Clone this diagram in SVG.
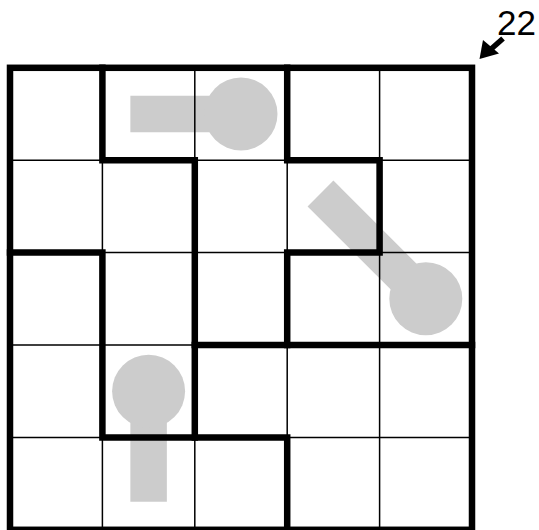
<svg xmlns="http://www.w3.org/2000/svg" width="539" height="530" viewBox="0 0 539 530">
  <style>
    .bg { fill: #ffffff; }
    .thin { stroke: #000; stroke-width: 1.5; fill: none; }
    .thick { stroke: #000; stroke-width: 6.5; fill: none; stroke-linecap: square; stroke-linejoin: miter; }
    .bar { stroke: #cccccc; stroke-width: 36.5; stroke-linecap: square; fill: none; }
    .bulb { fill: #cccccc; }
    .label { font-family: "Liberation Sans", Arial, sans-serif; font-size: 35px; fill: #000; }
  </style>
  <rect class="bg" x="0" y="0" width="539" height="530"/>

  <g id="pieces">
    <g id="piece-top">
      <line class="bar" x1="148.6" y1="114" x2="241" y2="114"/>
      <circle class="bulb" cx="241" cy="114" r="36.5"/>
    </g>
    <g id="piece-right">
      <line class="bar" x1="333.4" y1="206.4" x2="425.8" y2="298.8"/>
      <circle class="bulb" cx="425.8" cy="298.8" r="36.5"/>
    </g>
    <g id="piece-bottom">
      <line class="bar" x1="148.6" y1="483.6" x2="148.6" y2="391.2"/>
      <circle class="bulb" cx="148.6" cy="391.2" r="36.5"/>
    </g>
  </g>

  <g id="grid">
    <path class="thin" d="M102.4,67.8 V529.8 M194.8,67.8 V529.8 M287.2,67.8 V529.8 M379.6,67.8 V529.8 M10,160.2 H472 M10,252.6 H472 M10,345 H472 M10,437.4 H472"/>
  </g>

  <g id="walls">
    <rect class="thick" x="10" y="67.8" width="462" height="462"/>
    <path class="thick" d="M102.4,67.8 V160.2 H194.8 V437.4"/>
    <path class="thick" d="M287.2,67.8 V160.2 H379.6 V252.6 H287.2 V345"/>
    <path class="thick" d="M194.8,345 H472"/>
    <path class="thick" d="M10,252.6 H102.4 V437.4 H287.2 V529.8"/>
  </g>

  <g id="callout">
    <line x1="503" y1="38.5" x2="490" y2="50" stroke="#000" stroke-width="5.5"/>
    <polygon points="479.5,59 483,40 499,53.5" fill="#000"/>
    <text class="label" x="497" y="35">22</text>
  </g>
</svg>
